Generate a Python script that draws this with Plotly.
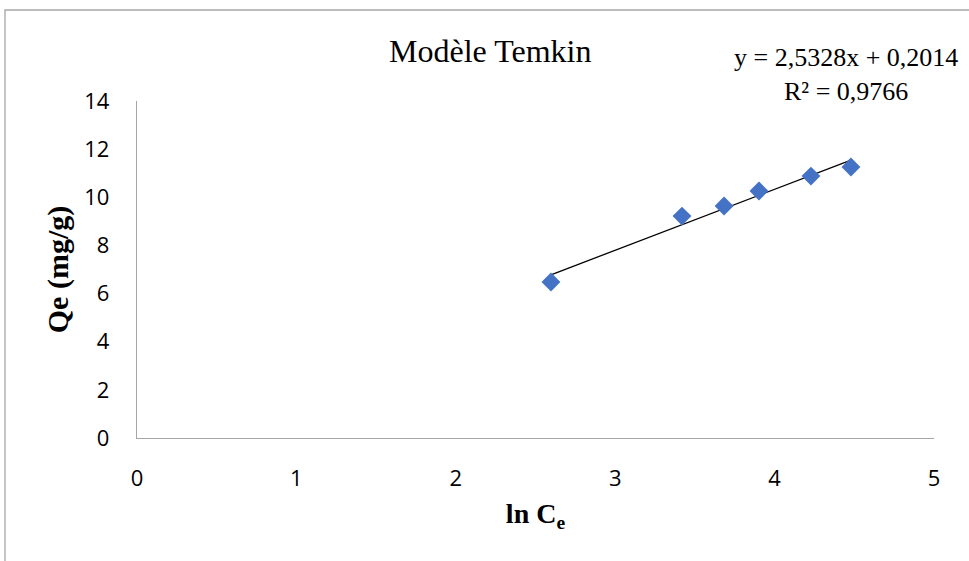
import plotly.graph_objects as go

# Data
ln_ce = [2.597, 3.419, 3.683, 3.902, 4.228, 4.479]
qe = [6.48, 9.22, 9.64, 10.26, 10.88, 11.26]
slope = 2.5328
intercept = 0.2014
r2 = 0.9766
x_ticks = [0, 1, 2, 3, 4, 5]
y_ticks = [0, 2, 4, 6, 8, 10, 12, 14]

W, H = 969, 561
ml, mr, mt, mb = 137, 35, 101, 123

trend_x = [min(ln_ce), max(ln_ce)]
trend_y = [slope * v + intercept for v in trend_x]

fig = go.Figure()
fig.add_trace(go.Scatter(
    x=trend_x, y=trend_y, mode="lines",
    line=dict(color="black", width=1.3), hoverinfo="skip", showlegend=False))
fig.add_trace(go.Scatter(
    x=ln_ce, y=qe, mode="markers",
    marker=dict(symbol="diamond", size=14.5, color="#4472C4"),
    showlegend=False))

serif = "Liberation Serif"
sans = "Open Sans"

pw = W - ml - mr
ph = H - mt - mb

def px_x(px):
    return (px - ml) / pw

def px_y(py):
    return (H - mb - py) / ph

fig.update_layout(
    width=W, height=H,
    margin=dict(l=ml, r=mr, t=mt, b=mb),
    paper_bgcolor="white", plot_bgcolor="white",
    showlegend=False,
    xaxis=dict(range=[0, 5], tickvals=x_ticks, showgrid=False, zeroline=False,
               showline=True, linecolor="#A6A6A6", linewidth=1.3,
               ticks="outside", ticklen=20, tickcolor="rgba(0,0,0,0)",
               tickfont=dict(family=sans, size=22, color="black"),
               title=dict(text="<b>ln C<sub>e</sub></b>", font=dict(family=serif, size=28, color="black"),
                          standoff=12)),
    yaxis=dict(range=[0, 14], tickvals=y_ticks, showgrid=False, zeroline=False,
               showline=True, linecolor="#A6A6A6", linewidth=1.3,
               ticks="outside", ticklen=22, tickcolor="rgba(0,0,0,0)",
               tickfont=dict(family=sans, size=22, color="black"),
               title=dict(text="<b>Qe (mg/g)</b>", font=dict(family=serif, size=30, color="black"),
                          standoff=6)),
    annotations=[
        dict(text="Modèle Temkin", x=px_x(490), y=px_y(51), xref="paper", yref="paper",
             showarrow=False, xanchor="center", yanchor="middle",
             font=dict(family=serif, size=32, color="black")),
        dict(text=f"y = {str(slope).replace('.', ',')}x + {str(intercept).replace('.', ',')}<br>R² = {str(r2).replace('.', ',')}",
             x=px_x(846), y=px_y(74), xref="paper", yref="paper",
             showarrow=False, xanchor="center", yanchor="middle", align="center",
             font=dict(family=serif, size=26, color="black")),
    ],
    shapes=[
        dict(type="rect", xref="paper", yref="paper",
             x0=px_x(5), x1=px_x(990), y0=px_y(600), y1=px_y(10),
             line=dict(color="#A6A6A6", width=1.3), fillcolor="rgba(0,0,0,0)", layer="below"),
    ],
)

fig.write_html("out.html")
